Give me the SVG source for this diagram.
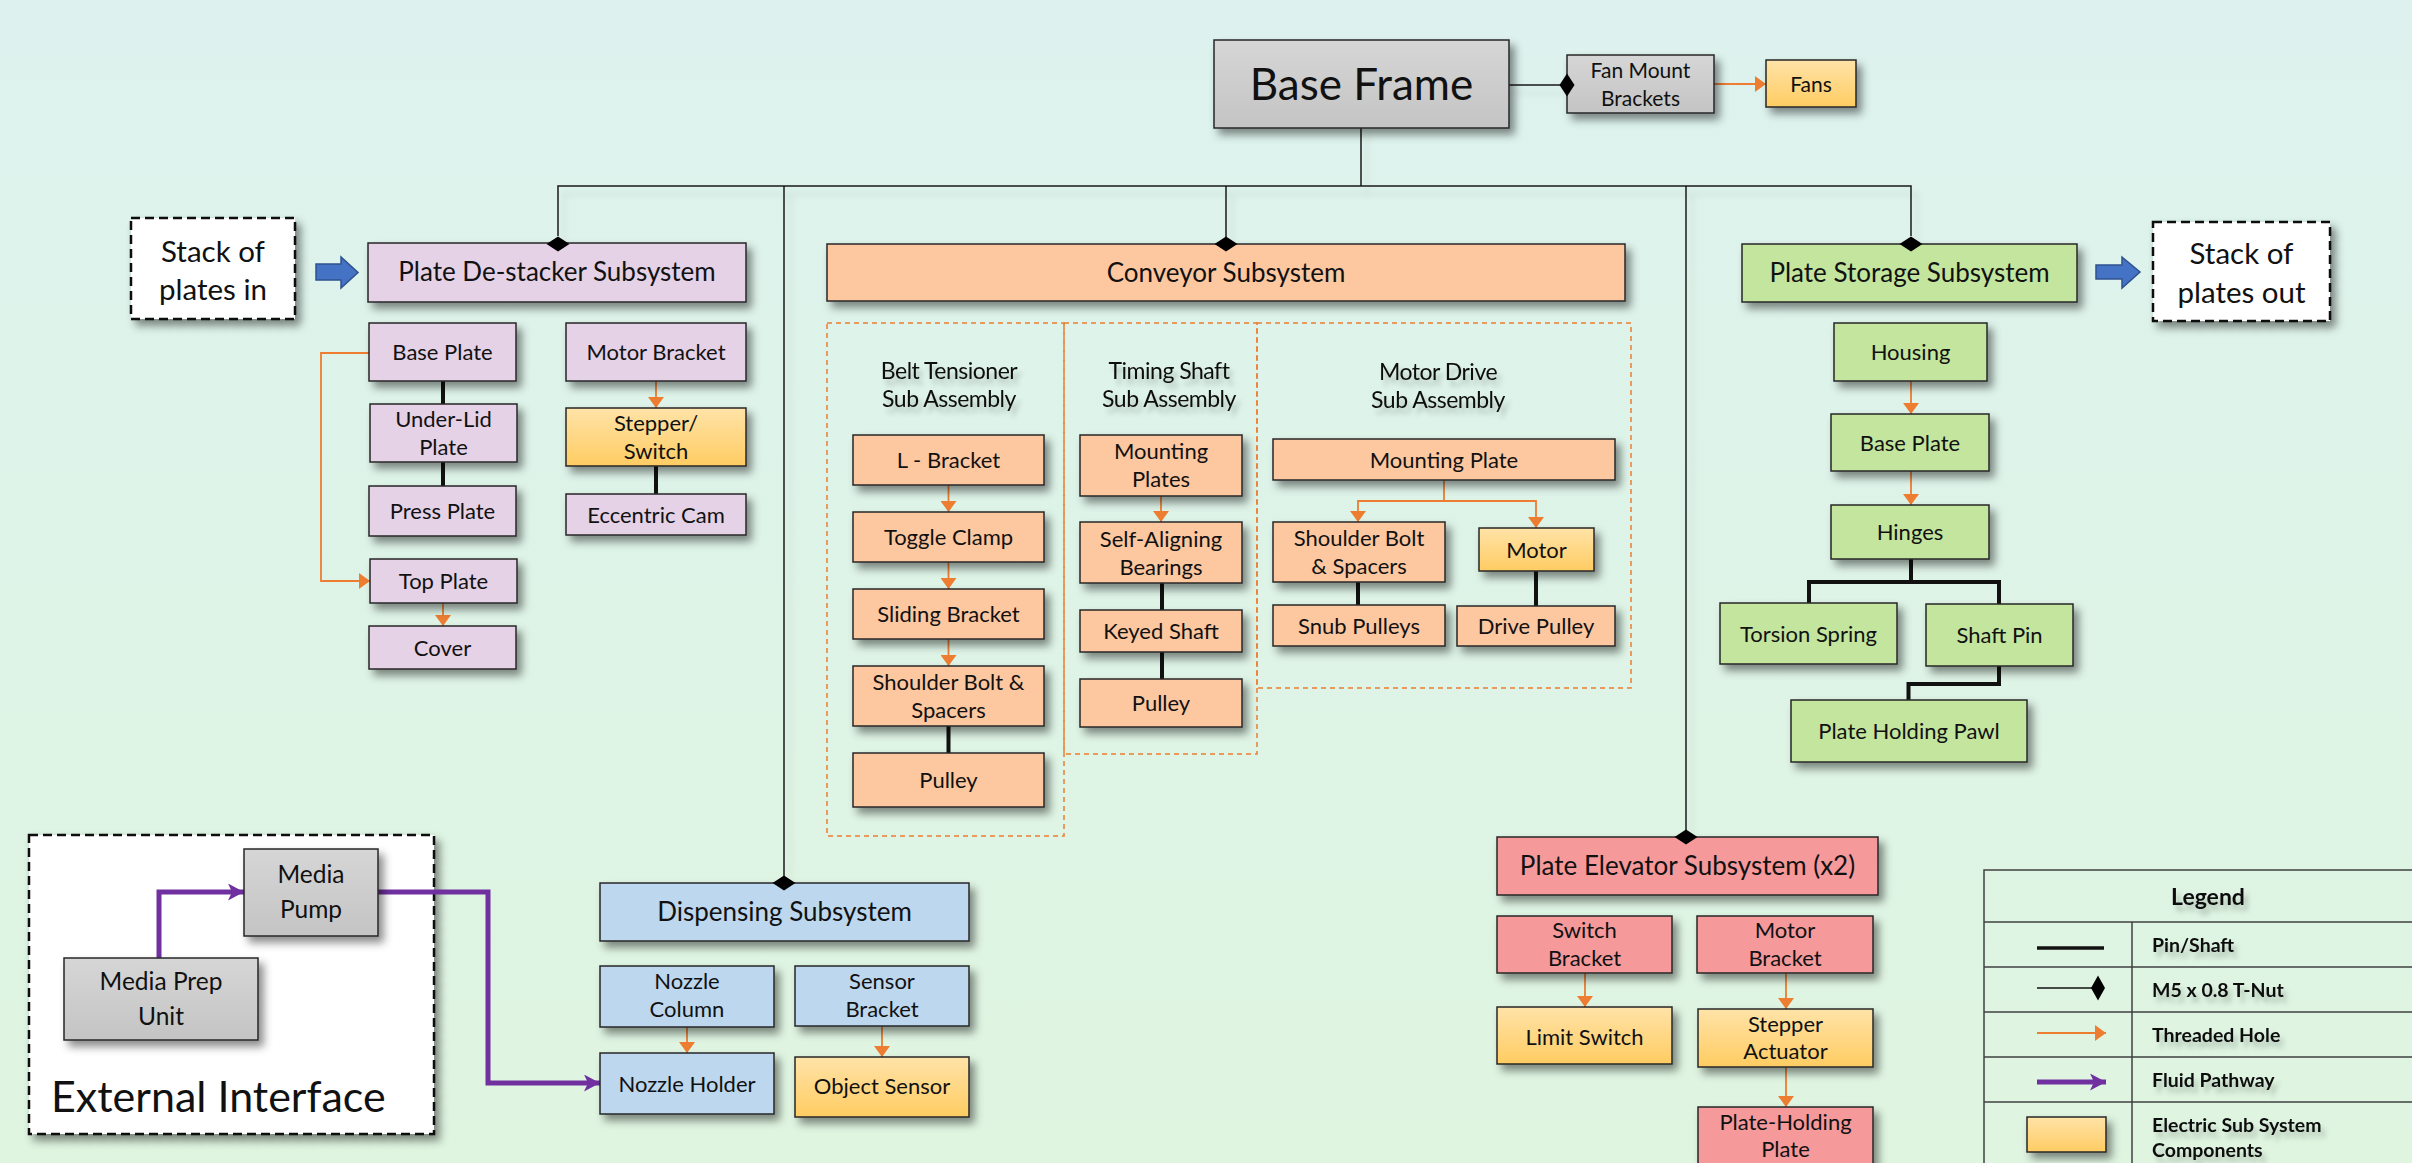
<svg xmlns="http://www.w3.org/2000/svg" width="2412" height="1163" viewBox="0 0 2412 1163">
<defs>
<linearGradient id="bg" x1="0" y1="0" x2="0" y2="1"><stop offset="0" stop-color="#ddf2ee"/><stop offset="1" stop-color="#dff5e0"/></linearGradient>
<linearGradient id="gGray" x1="0" y1="0" x2="0" y2="1"><stop offset="0" stop-color="#d6d6d6"/><stop offset="1" stop-color="#c4c4c4"/></linearGradient>
<linearGradient id="gElec" x1="0" y1="0" x2="0" y2="1"><stop offset="0" stop-color="#ffe3a8"/><stop offset="1" stop-color="#ffcc62"/></linearGradient>
<filter id="sh" x="-20%" y="-20%" width="150%" height="160%"><feDropShadow dx="5" dy="6" stdDeviation="4" flood-color="#000" flood-opacity="0.45"/></filter>
<filter id="tsh" x="-20%" y="-50%" width="150%" height="220%"><feDropShadow dx="4" dy="6" stdDeviation="2.5" flood-color="#000" flood-opacity="0.22"/></filter>
<filter id="lsh" x="-5%" y="-5%" width="110%" height="110%"><feDropShadow dx="6" dy="8" stdDeviation="3" flood-color="#000" flood-opacity="0.12"/></filter>
<marker id="oa" markerWidth="12" markerHeight="16" refX="11" refY="8" orient="auto" markerUnits="userSpaceOnUse"><path d="M0,0 L11,8 L0,16 z" fill="#ed7d31"/></marker>
<marker id="pa" markerWidth="17" markerHeight="17" refX="16" refY="8.5" orient="auto" markerUnits="userSpaceOnUse"><path d="M0,0 L16,8.5 L0,17 L4,8.5 z" fill="#7030a0"/></marker>
<style>
.b{stroke:#262626;stroke-width:1.5;filter:url(#sh)}
.gray{fill:url(#gGray)}.lav{fill:#e5d2e6}.peach{fill:#fdc7a0}.elec{fill:url(#gElec)}.blue{fill:#bdd7ee}.green{fill:#c3e59e}.pink{fill:#f5999b}
.dash{fill:#fff;stroke:#111;stroke-width:2.5;stroke-dasharray:9 5;filter:url(#sh)}
.od{fill:none;stroke:#ed7d31;stroke-width:1.5;stroke-dasharray:5 4}
text{font-family:Lato,"Liberation Sans",sans-serif;fill:#111;text-anchor:middle;font-size:22px}
text.h{font-size:26px}
text.xl{font-size:44px}
text.ei{font-size:43px;text-anchor:start}
text.st{font-size:29.5px}
text.fm{font-size:21px}
text.mp{font-size:24.5px}
text.sub{font-size:23px;letter-spacing:-0.5px;filter:url(#tsh)}
text.lg{font-weight:bold;font-size:19.5px;text-anchor:start;filter:url(#tsh)}
text.lgt{font-weight:bold;font-size:23px;filter:url(#tsh)}
.thin{fill:none;stroke:#1a1a1a;stroke-width:1.5}
.pin{fill:none;stroke:#111;stroke-width:4}
.th{fill:none;stroke:#ed7d31;stroke-width:1.8;marker-end:url(#oa)}
.fl{fill:none;stroke:#7030a0;stroke-width:5;marker-end:url(#pa)}
.dia{fill:#000}
.grid{fill:none;stroke:#404040;stroke-width:1.5}
</style>
</defs>
<rect x="0" y="0" width="2412" height="1163" fill="url(#bg)"/>

<g id="subassembly-frames">
<rect class="od" x="827" y="323" width="237" height="513"/>
<rect class="od" x="1064" y="323" width="193" height="431"/>
<rect class="od" x="1257" y="323" width="374" height="365"/>
<text class="sub" x="949" y="379">Belt Tensioner</text><text class="sub" x="949" y="407">Sub Assembly</text>
<text class="sub" x="1169" y="379">Timing Shaft</text><text class="sub" x="1169" y="407">Sub Assembly</text>
<text class="sub" x="1438" y="380">Motor Drive</text><text class="sub" x="1438" y="408">Sub Assembly</text>
</g>

<g id="external-interface"><rect class="dash" x="29" y="835" width="405" height="299"/><text class="ei" x="51" y="1112">External Interface</text></g>

<g id="connectors">
<g filter="url(#lsh)">
<path class="thin" d="M558,236 V186 H1911 V236 M1361,128 V186 M784,186 V876 M1226,186 V237 M1686,186 V830 M1509,85 H1560"/>
</g>
<path class="th" d="M1714,84 H1766"/>
<path class="th" d="M656,381 V408"/>
<path class="th" d="M369,353 H321 V581 H370"/>
<path class="th" d="M443,603 V626"/>
<path class="th" d="M948.5,485 V512"/>
<path class="th" d="M948.5,562 V589"/>
<path class="th" d="M948.5,639 V666"/>
<path class="th" d="M1161,496 V522"/>
<path class="th" d="M1444,480 V501 H1358 V522"/>
<path class="th" d="M1444,501 H1536 V528"/>
<path class="th" d="M1911,381 V414"/>
<path class="th" d="M1911,471 V505"/>
<path class="th" d="M687,1027 V1053"/>
<path class="th" d="M882,1026 V1057"/>
<path class="th" d="M1585,973 V1007"/>
<path class="th" d="M1786,973 V1009"/>
<path class="th" d="M1786,1067 V1107"/>
<path class="pin" d="M443,381 V404 M443,462 V486 M656,466 V494 M948.5,726 V753 M1162,583 V610 M1162,652 V679 M1358,582 V605 M1536,571 V606 M1911,559 V582 M1809,603 V582 H1999 V604 M1999,666 V684 H1908.5 V700"/>
<path class="fl" d="M159,958 V892 H244"/>
<path class="fl" d="M378,892 H488 V1083 H600"/>
<polygon fill="#4472c4" stroke="#2f528f" stroke-width="1.5" points="316,264 341,264 341,257 358,272.5 341,288 341,280 316,280"/>
<polygon fill="#4472c4" stroke="#2f528f" stroke-width="1.5" points="2096,265 2122,265 2122,257 2140,272 2122,288 2122,279 2096,279"/>
</g>

<g id="base-frame"><rect class="b gray" x="1214" y="40" width="295" height="88"/><text class="xl" x="1361.5" y="100">Base Frame</text></g>
<g id="fan-mount-brackets"><rect class="b gray" x="1567" y="55" width="147" height="58"/><text class="fm" x="1640.5" y="78">Fan Mount</text><text class="fm" x="1640.5" y="106">Brackets</text></g>
<g id="fans"><rect class="b elec" x="1766" y="60" width="90" height="47"/><text class="fm" x="1811" y="92">Fans</text></g>

<g id="stack-in"><rect class="dash" x="131" y="218" width="164" height="101"/><text class="st" x="213" y="262">Stack of</text><text class="st" x="213" y="300">plates in</text></g>
<g id="plate-destacker"><rect class="b lav" x="368" y="243" width="378" height="59"/><text class="h" x="557" y="281">Plate De-stacker Subsystem</text></g>
<g id="ds-base-plate"><rect class="b lav" x="369" y="323" width="147" height="58"/><text x="442.5" y="360">Base Plate</text></g>
<g id="ds-under-lid"><rect class="b lav" x="370" y="404" width="147" height="58"/><text x="443.5" y="427">Under-Lid</text><text x="443.5" y="455">Plate</text></g>
<g id="ds-press-plate"><rect class="b lav" x="369" y="486" width="147" height="50"/><text x="442.5" y="519">Press Plate</text></g>
<g id="ds-top-plate"><rect class="b lav" x="370" y="559" width="147" height="44"/><text x="443.5" y="589">Top Plate</text></g>
<g id="ds-cover"><rect class="b lav" x="369" y="626" width="147" height="43"/><text x="442.5" y="655.5">Cover</text></g>
<g id="ds-motor-bracket"><rect class="b lav" x="566" y="323" width="180" height="58"/><text x="656" y="360">Motor Bracket</text></g>
<g id="ds-stepper-switch"><rect class="b elec" x="566" y="408" width="180" height="58"/><text x="656" y="431">Stepper/</text><text x="656" y="459">Switch</text></g>
<g id="ds-eccentric-cam"><rect class="b lav" x="566" y="494" width="180" height="41"/><text x="656" y="522.5">Eccentric Cam</text></g>

<g id="conveyor"><rect class="b peach" x="827" y="244" width="798" height="57"/><text class="h" x="1226" y="282">Conveyor Subsystem</text></g>
<g id="bt-l-bracket"><rect class="b peach" x="853" y="435" width="191" height="50"/><text x="948.5" y="468">L - Bracket</text></g>
<g id="bt-toggle-clamp"><rect class="b peach" x="853" y="512" width="191" height="50"/><text x="948.5" y="545">Toggle Clamp</text></g>
<g id="bt-sliding-bracket"><rect class="b peach" x="853" y="589" width="191" height="50"/><text x="948.5" y="622">Sliding Bracket</text></g>
<g id="bt-shoulder-bolt"><rect class="b peach" x="853" y="666" width="191" height="60"/><text x="948.5" y="690">Shoulder Bolt &amp;</text><text x="948.5" y="718">Spacers</text></g>
<g id="bt-pulley"><rect class="b peach" x="853" y="753" width="191" height="54"/><text x="948.5" y="788">Pulley</text></g>
<g id="ts-mounting-plates"><rect class="b peach" x="1080" y="435" width="162" height="61"/><text x="1161" y="459">Mounting</text><text x="1161" y="487">Plates</text></g>
<g id="ts-bearings"><rect class="b peach" x="1080" y="522" width="162" height="61"/><text x="1161" y="547">Self-Aligning</text><text x="1161" y="575">Bearings</text></g>
<g id="ts-keyed-shaft"><rect class="b peach" x="1080" y="610" width="162" height="42"/><text x="1161" y="639">Keyed Shaft</text></g>
<g id="ts-pulley"><rect class="b peach" x="1080" y="679" width="162" height="48"/><text x="1161" y="711">Pulley</text></g>
<g id="md-mounting-plate"><rect class="b peach" x="1273" y="439" width="342" height="41"/><text x="1444" y="467.5">Mounting Plate</text></g>
<g id="md-shoulder-bolt"><rect class="b peach" x="1273" y="522" width="172" height="60"/><text x="1359" y="546">Shoulder Bolt</text><text x="1359" y="574">&amp; Spacers</text></g>
<g id="md-motor"><rect class="b elec" x="1479" y="528" width="115" height="43"/><text x="1536.5" y="557.5">Motor</text></g>
<g id="md-snub-pulleys"><rect class="b peach" x="1273" y="605" width="172" height="41"/><text x="1359" y="633.5">Snub Pulleys</text></g>
<g id="md-drive-pulley"><rect class="b peach" x="1457" y="606" width="158" height="40"/><text x="1536" y="634">Drive Pulley</text></g>

<g id="plate-storage"><rect class="b green" x="1742" y="244" width="335" height="58"/><text class="h" x="1909.5" y="282">Plate Storage Subsystem</text></g>
<g id="stack-out"><rect class="dash" x="2153" y="222" width="177" height="99"/><text class="st" x="2241.5" y="264">Stack of</text><text class="st" x="2241.5" y="303">plates out</text></g>
<g id="ps-housing"><rect class="b green" x="1834" y="323" width="153" height="58"/><text x="1910.5" y="360">Housing</text></g>
<g id="ps-base-plate"><rect class="b green" x="1831" y="414" width="158" height="57"/><text x="1910" y="450.5">Base Plate</text></g>
<g id="ps-hinges"><rect class="b green" x="1831" y="505" width="158" height="54"/><text x="1910" y="540">Hinges</text></g>
<g id="ps-torsion-spring"><rect class="b green" x="1720" y="603" width="177" height="61"/><text x="1808.5" y="641.5">Torsion Spring</text></g>
<g id="ps-shaft-pin"><rect class="b green" x="1926" y="604" width="147" height="62"/><text x="1999.5" y="643">Shaft Pin</text></g>
<g id="ps-pawl"><rect class="b green" x="1791" y="700" width="236" height="62"/><text x="1909" y="739">Plate Holding Pawl</text></g>

<g id="media-pump"><rect class="b gray" x="244" y="849" width="134" height="87"/><text class="mp" x="311" y="883">Media</text><text class="mp" x="311" y="918">Pump</text></g>
<g id="media-prep"><rect class="b gray" x="64" y="958" width="194" height="82"/><text class="mp" x="161" y="990">Media Prep</text><text class="mp" x="161" y="1025">Unit</text></g>
<g id="dispensing"><rect class="b blue" x="600" y="883" width="369" height="58"/><text class="h" x="784.5" y="921">Dispensing Subsystem</text></g>
<g id="dp-nozzle-column"><rect class="b blue" x="600" y="966" width="174" height="61"/><text x="687" y="989">Nozzle</text><text x="687" y="1017">Column</text></g>
<g id="dp-sensor-bracket"><rect class="b blue" x="795" y="966" width="174" height="60"/><text x="882" y="989">Sensor</text><text x="882" y="1017">Bracket</text></g>
<g id="dp-nozzle-holder"><rect class="b blue" x="600" y="1053" width="174" height="61"/><text x="687" y="1092">Nozzle Holder</text></g>
<g id="dp-object-sensor"><rect class="b elec" x="795" y="1057" width="174" height="60"/><text x="882" y="1094">Object Sensor</text></g>

<g id="plate-elevator"><rect class="b pink" x="1497" y="837" width="381" height="58"/><text class="h" x="1687.5" y="875">Plate Elevator Subsystem (x2)</text></g>
<g id="pe-switch-bracket"><rect class="b pink" x="1497" y="916" width="175" height="57"/><text x="1584.5" y="938">Switch</text><text x="1584.5" y="966">Bracket</text></g>
<g id="pe-motor-bracket"><rect class="b pink" x="1697" y="916" width="176" height="57"/><text x="1785" y="938">Motor</text><text x="1785" y="966">Bracket</text></g>
<g id="pe-limit-switch"><rect class="b elec" x="1497" y="1007" width="175" height="57"/><text x="1584.5" y="1045">Limit Switch</text></g>
<g id="pe-stepper-actuator"><rect class="b elec" x="1698" y="1009" width="175" height="58"/><text x="1785.5" y="1032">Stepper</text><text x="1785.5" y="1059">Actuator</text></g>
<g id="pe-plate-holding"><rect class="b pink" x="1698" y="1107" width="175" height="80"/><text x="1785.5" y="1130">Plate-Holding</text><text x="1785.5" y="1157">Plate</text></g>

<g id="connector-nuts">
<polygon class="dia" points="546.5,244 558,236.5 569.5,244 558,251.5"/>
<polygon class="dia" points="1214.5,244 1226,236.5 1237.5,244 1226,251.5"/>
<polygon class="dia" points="1899.5,244 1911,236.5 1922.5,244 1911,251.5"/>
<polygon class="dia" points="772.5,883 784,875.5 795.5,883 784,890.5"/>
<polygon class="dia" points="1674.5,837 1686,829.5 1697.5,837 1686,844.5"/>
<polygon class="dia" points="1559.5,85 1567,73.5 1574.5,85 1567,96.5"/>
</g>

<g id="legend">
<path class="grid" d="M1984,1180 V870 H2440 M1984,922 H2440 M1984,967 H2440 M1984,1012 H2440 M1984,1057 H2440 M1984,1102 H2440 M2132,922 V1180"/>
<text class="lgt" x="2208" y="905">Legend</text>
<line x1="2037" y1="948" x2="2104" y2="948" stroke="#111" stroke-width="3.5"/>
<line x1="2037" y1="988" x2="2092" y2="988" stroke="#111" stroke-width="1.5"/>
<polygon class="dia" points="2091,988 2098,975.5 2105,988 2098,1000.5"/>
<line x1="2037" y1="1033" x2="2106" y2="1033" stroke="#ed7d31" stroke-width="1.8" marker-end="url(#oa)"/>
<line x1="2037" y1="1082" x2="2106" y2="1082" stroke="#7030a0" stroke-width="5" marker-end="url(#pa)"/>
<rect class="b elec" x="2027" y="1117" width="79" height="35"/>
<text class="lg" x="2152" y="952">Pin/Shaft</text>
<text class="lg" x="2152" y="997">M5 x 0.8 T-Nut</text>
<text class="lg" x="2152" y="1042">Threaded Hole</text>
<text class="lg" x="2152" y="1087">Fluid Pathway</text>
<text class="lg" x="2152" y="1132">Electric Sub System</text>
<text class="lg" x="2152" y="1157">Components</text>
</g>
</svg>
